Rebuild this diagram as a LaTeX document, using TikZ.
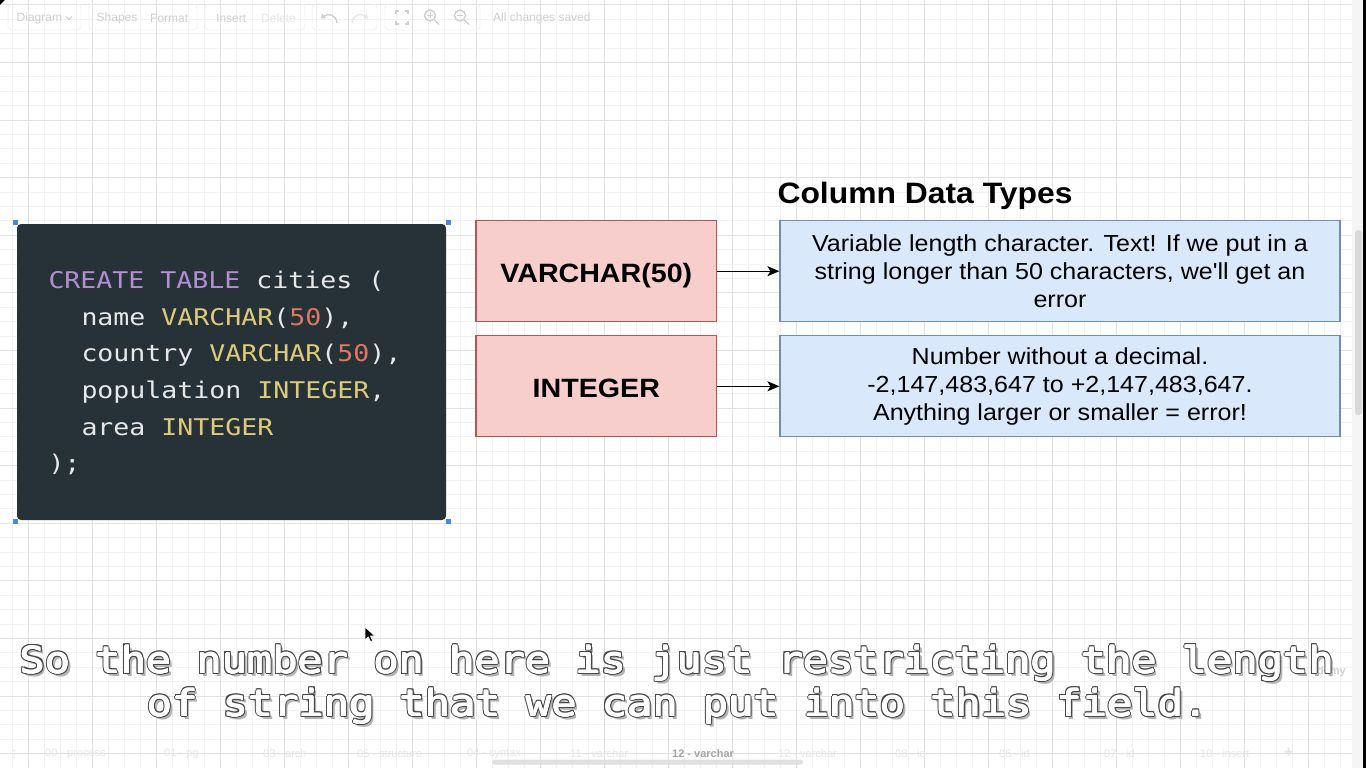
\documentclass[tikz,border=0pt]{standalone}
\usepackage{fontspec}
\usetikzlibrary{arrows.meta}
\newfontfamily\boxfont{Liberation Sans}[FakeStretch=1.08]
\newfontfamily\codefont{DejaVu Sans Mono}[FakeStretch=1.155]
\newfontfamily\subfont{DejaVu Sans Mono}[FakeStretch=1.15]
\newfontfamily\uifont{Liberation Sans}
\definecolor{codebg}{HTML}{263238}
\definecolor{kw}{HTML}{B38ED2}
\definecolor{ty}{HTML}{DECA78}
\definecolor{num}{HTML}{E0785F}
\definecolor{plain}{HTML}{E8E8E8}
\definecolor{redfill}{HTML}{F8CECC}
\definecolor{redline}{HTML}{B85450}
\definecolor{bluefill}{HTML}{DAE8FC}
\definecolor{blueline}{HTML}{6C8EBF}
\definecolor{gridminor}{HTML}{F2F2F2}
\definecolor{gridmajor}{HTML}{E2E2E2}
\definecolor{uigray}{HTML}{CFCFCF}
\definecolor{uilight}{HTML}{E6E6E6}
\definecolor{handle}{HTML}{4A86E8}
\tikzset{
  redbox/.style={draw=redline, fill=redfill, line width=1.2pt, minimum width=240.7pt, minimum height=101pt, inner sep=0pt,
    font=\boxfont\bfseries\fontsize{26.5}{30}\selectfont, text height=22pt, text depth=0pt},
  bluebox/.style={draw=blueline, fill=bluefill, line width=1.2pt, minimum width=560pt, minimum height=101pt, inner sep=0pt,
    align=center, font=\boxfont\fontsize{23.2}{27.7}\selectfont},
  conn/.style={line width=1.3pt, -{Stealth[length=12pt,width=10pt,inset=3pt]}},
  codeline/.style={anchor=base west, inner sep=0pt, font=\codefont\fontsize{23}{27}\selectfont, text=plain},
  subtxt/.style={anchor=base, inner sep=0pt, font=\subfont\fontsize{36.5}{40}\selectfont},
  uitext/.style={anchor=west, inner sep=0pt, font=\uifont\fontsize{12}{14}\selectfont, text=uigray},
  tabtext/.style={anchor=west, inner sep=0pt, font=\uifont\fontsize{11}{13}\selectfont, text=uilight},
  uibtn/.style={draw=black!5, line width=0.8pt, rounded corners=4pt},
  icon/.style={draw=uigray, line width=1.4pt},
}
\newcommand\outlined[4]{%
  \foreach \dx/\dy in {2.4/2.6,3.0/3.2} {\node[subtxt, text=black!30] at (#2+\dx,#3+\dy) {#4};}
  \foreach \dx/\dy in {-1.6/0,1.6/0,0/-1.6,0/1.6,-1.15/-1.15,1.15/1.15,-1.15/1.15,1.15/-1.15} {\node[subtxt, text=black!72] at (#2+\dx,#3+\dy) {#4};}
  \foreach \dx/\dy in {-0.6/0,0.6/0,0/-0.6,0/0.6} {\node[subtxt, text=white] at (#2+\dx,#3+\dy) {#4};}
  \node[subtxt, text=white] (#1) at (#2,#3) {#4};}
\begin{document}
\begin{tikzpicture}[x=1pt, y=-1pt]
\useasboundingbox (0,0) rectangle (1366,768);
\fill[white] (0,0) rectangle (1366,768);
% grid
\foreach \x in {12,28,...,1350} \draw[gridminor, line width=0.8pt] (\x,0) -- (\x,768);
\foreach \y in {4.8,19.2,...,768} \draw[gridminor, line width=0.8pt] (0,\y) -- (1352,\y);
\foreach \x in {28,92,...,1340} \draw[gridmajor, line width=0.8pt] (\x,0) -- (\x,768);
\foreach \y in {4.8,62.4,...,768} \draw[gridmajor, line width=0.8pt] (0,\y) -- (1352,\y);
% toolbar
\draw[uibtn] (8,4) rectangle (81,30);
\draw[uibtn] (89,4) rectangle (197,30);
\draw[uibtn] (205,4) rectangle (305,30);
\draw[uibtn] (312,4) rectangle (377,30);
\draw[uibtn] (385,4) rectangle (480,30);
\node[uitext] (tDiagram) at (16.5,18) {Diagram};
\draw[icon, line width=1pt] (66,16.5) -- (69,19.5) -- (72,16.5);
\node[uitext] (tShapes) at (96.5,18) {Shapes};
\node[uitext] (tFormat) at (150,18) {Format};
\node[uitext] (tInsert) at (216,18) {Insert};
\node[uitext, text=uilight] (tDelete) at (261,18) {Delete};
\node[uitext] (tSaved) at (493,18) {All changes saved};
\draw[icon, -{Triangle[length=4pt,width=6pt]}] (337,23) .. controls (336,14) and (328,13) .. (321,18.5);
\draw[icon, draw=uilight, -{Triangle[length=4pt,width=6pt]}] (352,23) .. controls (353,14) and (361,13) .. (368,18.5);
\draw[icon] (396,14) -- (396,11) -- (399,11);
\draw[icon] (405,11) -- (408,11) -- (408,14);
\draw[icon] (408,21) -- (408,24) -- (405,24);
\draw[icon] (399,24) -- (396,24) -- (396,21);
\draw[icon] (430,15.5) circle (5.5);
\draw[icon] (434,19.5) -- (439,24.5);
\draw[icon, line width=1pt] (427,15.5) -- (433,15.5) (430,12.5) -- (430,18.5);
\draw[icon] (460,15.5) circle (5.5);
\draw[icon] (464,19.5) -- (469,24.5);
\draw[icon, line width=1pt] (457,15.5) -- (463,15.5);
\fill (0,0) -- (5,0) -- (0,5) -- cycle;
% code box
\node[fill=codebg, rounded corners=4pt, minimum width=429pt, minimum height=296pt, inner sep=0pt] (code) at (231.5,372) {};
\foreach \cx/\cy in {15/222,448/222,15/521,448/521} \fill[handle] (\cx-2.5,\cy-2.5) rectangle (\cx+2.5,\cy+2.5);
\node[codeline] (c1) at (48.3,288.3) {{\color{kw}CREATE TABLE} cities (};
\node[codeline] (c2) at (81.3,325) {name {\color{ty}VARCHAR}({\color{num}50}),};
\node[codeline] (c3) at (81.3,361.7) {country {\color{ty}VARCHAR}({\color{num}50}),};
\node[codeline] (c4) at (81.3,398.3) {population {\color{ty}INTEGER},};
\node[codeline] (c5) at (81.3,435) {area {\color{ty}INTEGER}};
\node[codeline] (c6) at (48.3,471.7) {);};
% title
\node[anchor=base west, inner sep=0pt, font=\boxfont\bfseries\fontsize{29.5}{33}\selectfont] (title) at (777.3,203.3) {Column Data Types};
% type boxes
\node[redbox] (varchar) at (596.3,271.2) {VARCHAR(50)};
\node[redbox] (integer) at (596.3,386.3) {INTEGER};
\node[bluebox] (vdesc) at (1060,271.2) {Variable length character. Text! If we put in a\\ string longer than 50 characters, we'll get an\\ error};
\node[bluebox] (idesc) at (1060,386.3) {Number without a decimal.\\ -2,147,483,647 to +2,147,483,647.\\ Anything larger or smaller = error!};
\draw[conn] (varchar.east) -- (vdesc.west);
\draw[conn] (integer.east) -- (idesc.west);
% right scrollbar and frame
\fill[black!4] (1352,0) rectangle (1363,768);
\fill[black!15, rounded corners=3pt] (1355,230) rectangle (1362,415);
\fill[black] (1363.3,0) rectangle (1366,768);
% bottom tabs
\foreach \ty in {750.5,754,757.5} \fill[uilight] (14,\ty) circle (1);
\node[tabtext] (tab1) at (45,754) {00 - process};
\node[tabtext] (tab2) at (164,754) {01 - pg};
\node[tabtext] (tab3) at (263,754) {03 - arch};
\node[tabtext] (tab4) at (357,754) {05 - structure};
\node[tabtext] (tab5) at (467,754) {04 - syntax};
\node[tabtext] (tab6) at (570,754) {11 - varchar};
\node[tabtext, text=black!35, font=\uifont\bfseries\fontsize{11}{13}\selectfont] (tab7) at (672,754) {12 - varchar};
\node[tabtext] (tab8) at (778,754) {12 - varchar};
\node[tabtext] (tab9) at (895,754) {08 - id};
\node[tabtext] (tab10) at (999,754) {06 - id};
\node[tabtext] (tab11) at (1104,754) {07 - id};
\node[tabtext] (tab12) at (1200,754) {10 - insert};
\node[tabtext, font=\uifont\bfseries\fontsize{16}{18}\selectfont] (tabplus) at (1284,753) {+};
\fill[black!12, rounded corners=2.5pt] (492,759.5) rectangle (803,764.5);
% watermark
\node[inner sep=0pt, font=\uifont\bfseries\fontsize{11}{13}\selectfont, text=black!18] (udemy) at (1328,672) {udemy};
% mouse cursor
\filldraw[fill=black, draw=white, line width=0.6pt] (365,627) -- (365,640) -- (368.3,636.8) -- (370.6,641.6) -- (372.6,640.7) -- (370.4,636) -- (374.8,636) -- cycle;
% subtitle
\outlined{sub1}{677}{673}{So the number on here is just restricting the length}
\outlined{sub2}{678}{716}{of string that we can put into this field.}
\end{tikzpicture}
\end{document}
